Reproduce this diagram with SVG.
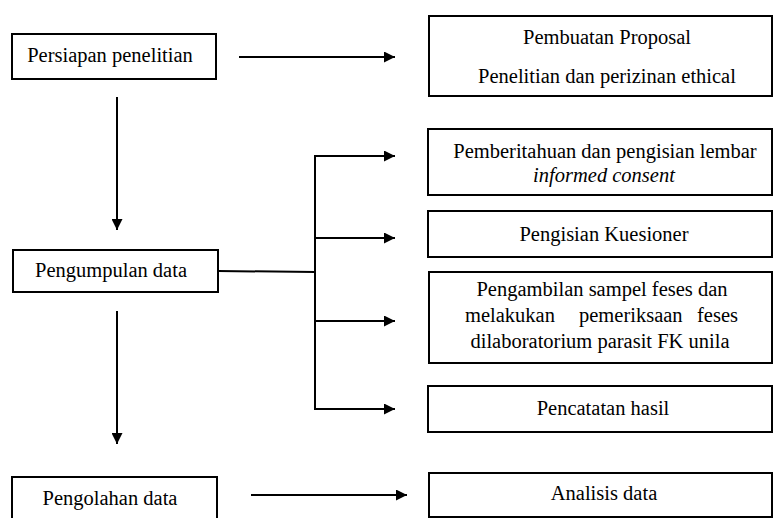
<svg xmlns="http://www.w3.org/2000/svg" width="773" height="518" viewBox="0 0 773 518">
<style>
.box{fill:#fff;stroke:#000;stroke-width:2}
.t{font-family:'Liberation Serif','DejaVu Serif',serif;font-size:20.5px;fill:#000;text-anchor:middle}
.c{fill:none;stroke:#000;stroke-width:2}
</style>
<defs>
<marker id="ah" markerUnits="userSpaceOnUse" markerWidth="12" markerHeight="11" refX="11" refY="5.5" orient="auto">
<path d="M0,0 L11,5.5 L0,11 Z" fill="#000"/>
</marker>
</defs>
<rect width="773" height="518" fill="#fff"/>
<g id="persiapan"><rect class="box" x="12" y="34" width="204" height="45"/><text class="t" x="110" y="62">Persiapan penelitian</text></g>
<g id="pengumpulan"><rect class="box" x="13" y="250" width="205" height="42"/><text class="t" x="111" y="277">Pengumpulan data</text></g>
<g id="pengolahan"><rect class="box" x="12" y="477" width="205" height="50"/><text class="t" x="110" y="505">Pengolahan data</text></g>
<g id="proposal"><rect class="box" x="429" y="16" width="343" height="80"/><text class="t" x="607" y="44">Pembuatan Proposal</text><text class="t" x="607" y="83">Penelitian dan perizinan ethical</text></g>
<g id="informed"><rect class="box" x="428" y="129" width="344" height="66"/><text class="t" x="605" y="158">Pemberitahuan dan pengisian lembar</text><text class="t" x="604" y="182" font-style="italic">informed consent</text></g>
<g id="kuesioner"><rect class="box" x="428" y="211" width="344" height="46"/><text class="t" x="604" y="241">Pengisian Kuesioner</text></g>
<g id="sampel"><rect class="box" x="429" y="272" width="343" height="91"/><text class="t" x="602" y="296">Pengambilan sampel feses dan</text><text class="t" x="465" y="322" style="text-anchor:start">melakukan</text><text class="t" x="579" y="322" style="text-anchor:start">pemeriksaan</text><text class="t" x="738" y="322" style="text-anchor:end">feses</text><text class="t" x="600" y="348">dilaboratorium parasit FK unila</text></g>
<g id="pencatatan"><rect class="box" x="428" y="386" width="344" height="46"/><text class="t" x="603" y="415">Pencatatan hasil</text></g>
<g id="analisis"><rect class="box" x="429" y="473" width="343" height="44"/><text class="t" x="604" y="500">Analisis data</text></g>
<g id="connectors">
<line class="c" x1="239" y1="57" x2="395" y2="57" marker-end="url(#ah)"/>
<line class="c" x1="117" y1="97" x2="117" y2="230" marker-end="url(#ah)"/>
<line class="c" x1="117" y1="311" x2="117" y2="444" marker-end="url(#ah)"/>
<line class="c" x1="251" y1="495" x2="407" y2="495" marker-end="url(#ah)"/>
<polyline class="c" points="218,271 315,272"/>
<line class="c" x1="315" y1="156" x2="315" y2="410"/>
<line class="c" x1="314" y1="156" x2="395" y2="156" marker-end="url(#ah)"/>
<line class="c" x1="314" y1="238" x2="395" y2="238" marker-end="url(#ah)"/>
<line class="c" x1="314" y1="321" x2="395" y2="321" marker-end="url(#ah)"/>
<line class="c" x1="314" y1="409" x2="395" y2="409" marker-end="url(#ah)"/>
</g>
</svg>
